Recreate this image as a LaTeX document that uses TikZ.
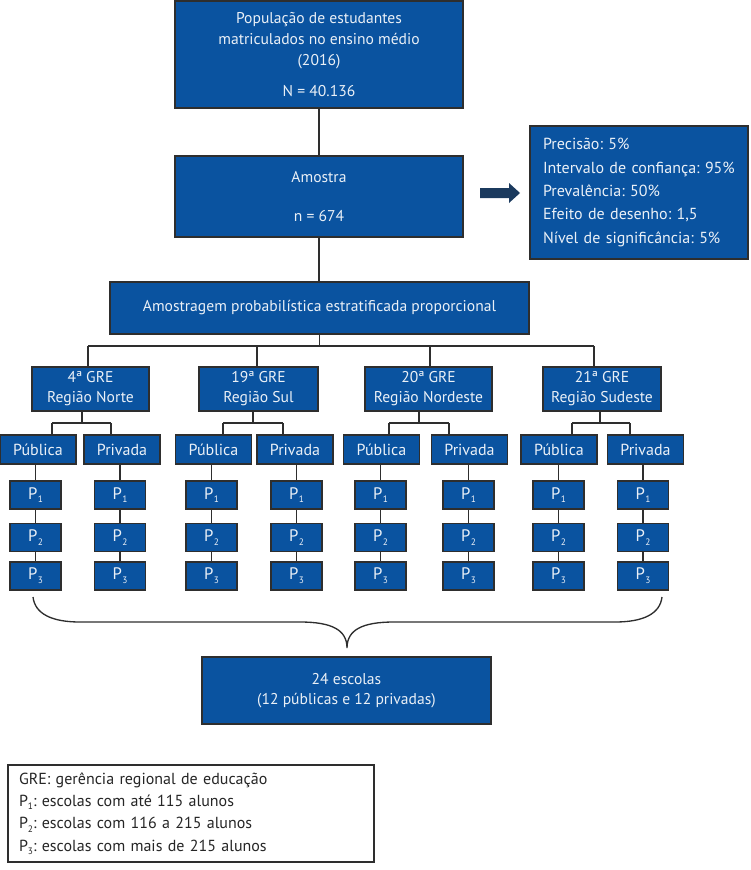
\documentclass[tikz,border=0pt]{standalone}
\usepackage{fontspec}
\setmainfont{PT Sans}
\usetikzlibrary{calc}
\frenchspacing
\definecolor{boxblue}{HTML}{0A53A0}
\definecolor{boxtext}{HTML}{EAF0F7}
\definecolor{linegray}{HTML}{2E2E2E}
\definecolor{arrownavy}{HTML}{1B3A5E}
\newcommand\psub[1]{\kern0.4pt\raisebox{-2.8pt}{\fontsize{7}{7}\selectfont #1}}
\tikzset{
  bx/.style={draw=linegray, fill=boxblue, text=boxtext, line width=0.8pt,
    inner sep=0pt, align=center, font=\fontsize{11.7}{16}\selectfont},
  sz/.style 2 args={minimum width=#1*0.75pt, minimum height=#2*0.75pt},
  conn/.style={draw=linegray, line width=0.8pt},
  legbox/.style={draw=linegray, line width=0.8pt, fill=white, text=black!85,
    inner sep=0pt, align=left, font=\fontsize{12}{16.7}\selectfont},
}
\begin{document}
\begin{tikzpicture}[x=0.75pt,y=-0.75pt]
\useasboundingbox (0,0) rectangle (750,870);
% top
\node[bx, sz={288}{107}] (pop) at (319,54.5)
  {População de estudantes\\matriculados no ensino médio\\(2016)\\[7pt]N = 40.136};
\node[bx, sz={288}{81}] (amo) at (319,196.5) {Amostra\\[13pt]n = 674};
\node[bx, sz={218}{133}, text width=144pt, align=left,
      font=\fontsize{12}{17.6}\selectfont] (info) at (639,192.5)
  {Precisão: 5\%\\Intervalo de confiança: 95\%\\Prevalência: 50\%\\Efeito de desenho: 1,5\\Nível de significância: 5\%};
\fill[arrownavy] (480,188) -- (509,188) -- (509,183) -- (520,193) -- (509,203) -- (509,198) -- (480,198) -- cycle;
\node[bx, sz={419}{52}] (strat) at (319.5,308) {Amostragem probabilística estratificada proporcional};
\draw[conn] (pop.south) -- (amo.north);
\draw[conn] (amo.south) -- (amo.south |- strat.north);
% GRE level
\node[bx, sz={117}{44}, font=\fontsize{11.7}{15}\selectfont] (g1) at (90.5,389) {4ª GRE\\Região Norte};
\node[bx, sz={119}{44}, font=\fontsize{11.7}{15}\selectfont] (g2) at (258.5,389) {19ª GRE\\Região Sul};
\node[bx, sz={127}{44}, font=\fontsize{11.7}{15}\selectfont] (g3) at (428.5,389) {20ª GRE\\Região Nordeste};
\node[bx, sz={118}{44}, font=\fontsize{11.7}{15}\selectfont] (g4) at (602,389) {21ª GRE\\Região Sudeste};
\coordinate (d1) at (88,346);
\coordinate (d2) at (257,346);
\coordinate (d3) at (430,346);
\coordinate (d4) at (594,346);
\draw[conn] (d1) -- (d4);
\draw[conn] (strat.south) -- (strat.south |- d1);
\foreach \k in {1,2,3,4} { \draw[conn] (d\k) -- (d\k |- g\k.north); }
% Publica / Privada
\foreach \n/\x in {pub1/38, pri1/122, pub2/213.5, pri2/295, pub3/381.5, pri3/469.5, pub4/559, pri4/645.5} {
  \node[bx, sz={76}{29}] (\n) at (\x,449.5) {};
}
\foreach \k in {1,2,3,4} {
  \node at (pub\k) [text=boxtext, font=\fontsize{12}{16}\selectfont] {Pública};
  \node at (pri\k) [text=boxtext, font=\fontsize{12}{16}\selectfont] {Privada};
}
\foreach \k/\s/\l/\r in {1/82/52/111, 2/253/223/283, 3/419/389/449, 4/600/572/630} {
  \coordinate (s\k) at (\s,423);
  \coordinate (l\k) at (\l,423);
  \coordinate (r\k) at (\r,423);
  \draw[conn] (s\k |- g\k.south) -- (s\k);
  \draw[conn] (l\k) -- (r\k);
  \draw[conn] (l\k) -- (l\k |- pub\k.north);
  \draw[conn] (r\k) -- (r\k |- pri\k.north);
}
% P boxes
\tikzset{pbox/.style={bx, sz={51}{28}, font=\fontsize{12.5}{14}\selectfont}}
\foreach \cl/\x/\pp in {a/35.5/pub1, b/120/pri1, c/211.5/pub2, d/296.5/pri2, e/380.5/pub3, f/468.5/pri3, g/558.5/pub4, h/643/pri4} {
  \node[pbox] (\cl1) at (\x,495) {P\psub{1}};
  \node[pbox] (\cl2) at (\x,537.5) {P\psub{2}};
  \node[pbox] (\cl3) at (\x,576) {P\psub{3}};
  \draw[conn] (\cl1.north) -- (\cl1.north |- \pp.south);
  \draw[conn] (\cl1.south) -- (\cl2.north);
  \draw[conn] (\cl2.south) -- (\cl3.north);
}
% brace
\coordinate (bl) at (33,597);
\coordinate (br) at (662,597);
\coordinate (bt) at (347,648);
\draw[conn, line width=1pt] (bl) .. controls (35,614) and (52,622) .. (80,622) -- (300,622)
  .. controls (332,622) and (347,630) .. (bt)
  .. controls (347,630) and (362,622) .. (394,622) -- (615,622)
  .. controls (643,622) and (660,614) .. (br);
% total
\node[bx, sz={289}{67}, font=\fontsize{11.7}{14.5}\selectfont] (tot) at (346.5,690.5)
  {24 escolas\\(12 públicas e 12 privadas)};
% legend
\node[legbox, sz={366}{97}, text width=258pt] (leg) at (191,813.5)
  {GRE: gerência regional de educação\\
   P{\fontsize{7}{7}\selectfont\raisebox{-2.4pt}{1}}: escolas com até 115 alunos\\
   P{\fontsize{7}{7}\selectfont\raisebox{-2.4pt}{2}}: escolas com 116 a 215 alunos\\
   P{\fontsize{7}{7}\selectfont\raisebox{-2.4pt}{3}}: escolas com mais de 215 alunos};
\end{tikzpicture}
\end{document}
